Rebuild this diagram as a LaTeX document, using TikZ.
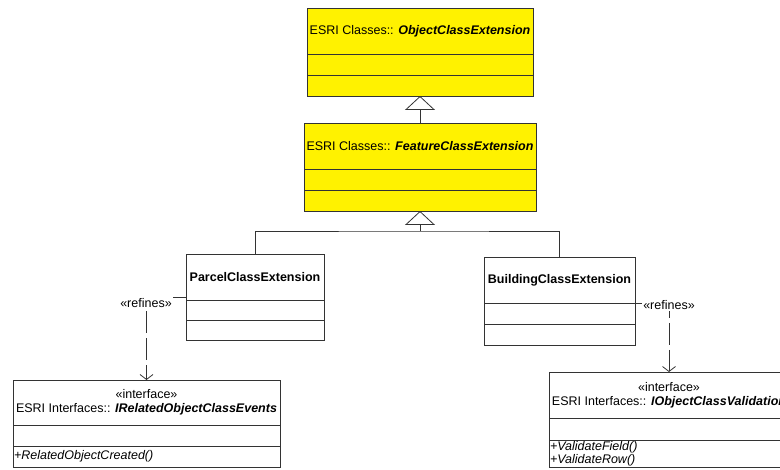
\documentclass[tikz,border=0pt]{standalone}
\usepackage{fontspec}
\setmainfont{Liberation Sans}
\usetikzlibrary{positioning,arrows.meta}

\begin{document}
\begin{tikzpicture}[x=1pt, y=-1pt,
  clsname/.style={draw=black!80, line width=0.8pt, inner sep=1pt, outer sep=0pt, minimum height=46pt, align=center, font=\fontsize{12.5}{14}\selectfont},
  clspart/.style={draw=black!80, line width=0.8pt, inner sep=1pt, outer sep=0pt, minimum height=21pt, align=left, font=\fontsize{12.5}{13}\selectfont},
  lbl/.style={fill=white, inner sep=1pt, font=\fontsize{12.5}{14}\selectfont},
  inherit/.style={draw=black!80, line width=0.8pt, -{Triangle[open, length=14pt, width=30pt]}},
  refine/.style={draw=black!80, line width=0.8pt, dash pattern=on 22pt off 5pt, -{Straight Barb[length=5pt, width=13pt]}}]
\useasboundingbox (0,0) rectangle (780,470);
\clip (0,0) rectangle (780,470);

% ESRI classes
\node (objname) [clsname, fill=yellow, minimum width=226pt] at (420,31) {ESRI Classes:: \textbf{\textit{ObjectClassExtension}}};
\node (objattr) [clspart, fill=yellow, minimum width=226pt, below=0pt of objname] {};
\node (objops) [clspart, fill=yellow, minimum width=226pt, below=0pt of objattr] {};

\node (featname) [clsname, fill=yellow, minimum width=232pt] at (420,146) {ESRI Classes:: \textbf{\textit{FeatureClassExtension}}};
\node (featattr) [clspart, fill=yellow, minimum width=232pt, below=0pt of featname] {};
\node (featops) [clspart, fill=yellow, minimum width=232pt, below=0pt of featattr] {};

% own extensions
\node (pname) [clsname, minimum width=138pt] at (255,277) {\textbf{ParcelClassExtension}};
\node (pattr) [clspart, minimum width=138pt, minimum height=20pt, below=0pt of pname] {};
\node (pops) [clspart, minimum width=138pt, minimum height=20pt, below=0pt of pattr] {};

\node (bname) [clsname, minimum width=151pt] at (559.5,280) {\textbf{BuildingClassExtension}};
\node (battr) [clspart, minimum width=151pt, below=0pt of bname] {};
\node (bops) [clspart, minimum width=151pt, below=0pt of battr] {};

% interfaces
\node (relname) [clsname, minimum width=267pt, minimum height=45pt] at (146.5,402.5) {«interface»\\ESRI Interfaces:: \textbf{\textit{IRelatedObjectClassEvents}}};
\node (relattr) [clspart, minimum width=267pt, below=0pt of relname] {};
\node (relops) [clspart, text width=265pt, below=0pt of relattr] {\textit{+RelatedObjectCreated()}};

\node (valname) [clsname, minimum width=240pt] at (669,395) {«interface»\\ESRI Interfaces:: \textbf{\textit{IObjectClassValidation}}};
\node (valattr) [clspart, minimum width=240pt, minimum height=22pt, below=0pt of valname] {};
\node (valops) [clspart, text width=238pt, text depth=16pt, below=0pt of valattr] {\textit{+ValidateField()}\\\textit{+ValidateRow()}};

% generalization
\coordinate (join) at (420,231);
\draw[inherit] (featname.north) -- (objops.south);
\draw[inherit] (join) -- (featops.south);
\draw[draw=black!80, line width=0.8pt] (pname.north) |- (join) -| (bname.north);

% refines
\draw[refine] ([yshift=3pt]pname.south west) -| (relname.north);
\draw[refine] (bname.south east) -| (valname.north);
\node (lref) [lbl] at (146,303) {«refines»};
\node (rref) [lbl] at (669,305) {«refines»};
\end{tikzpicture}
\end{document}
